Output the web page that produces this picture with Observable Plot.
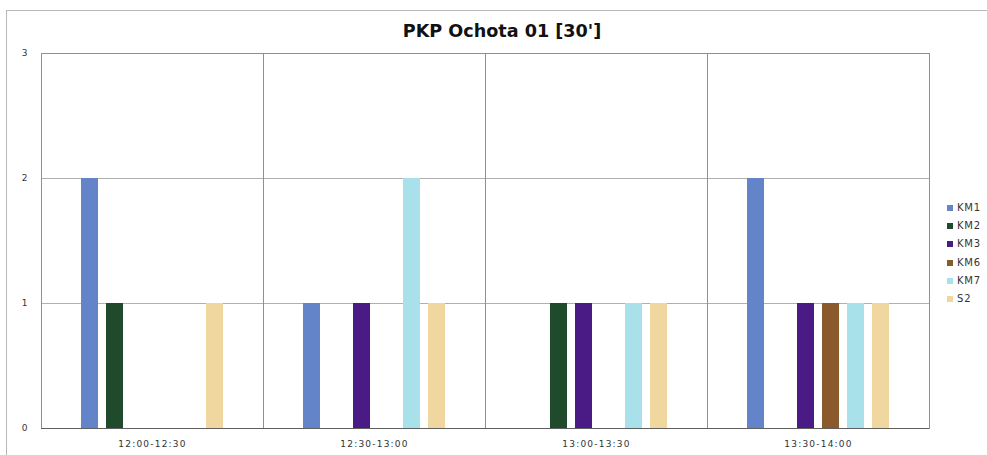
<!DOCTYPE html>
<html>
<head>
<meta charset="utf-8">
<script src="https://cdn.jsdelivr.net/npm/d3@7"></script>
<script src="https://cdn.jsdelivr.net/npm/@observablehq/plot@0.6"></script>
<style>
  body { margin: 0; background: #fff; width: 987px; height: 455px; overflow: hidden; position: relative; font-family: "DejaVu Sans", sans-serif; }
  #frame { position: absolute; left: 6px; top: 10px; width: 990px; height: 460px; border: 1px solid #b8b8b8; box-sizing: border-box; }
  #title { position: absolute; left: 0; top: 21px; width: 1004px; text-align: center; font-family: "DejaVu Sans", sans-serif; font-weight: bold; font-size: 17.6px; color: #111; }
  #chart { position: absolute; left: 0; top: 43px; }
  #legend { position: absolute; left: 947px; top: 199px; font-size: 10px; letter-spacing: 0.8px; color: #333; }
  #legend div { height: 18.2px; line-height: 18.2px; display: flex; align-items: center; }
  #legend span.sw { display: inline-block; width: 6px; height: 6px; margin-right: 4px; }
  #chart svg g[aria-label="fx-axis tick label"] text { letter-spacing: 1.2px; }
</style>
</head>
<body>
<div id="frame"></div>
<div id="title">PKP Ochota 01 [30']</div>
<div id="chart"></div>
<div id="legend"></div>
<script>
const groups = ["12:00-12:30", "12:30-13:00", "13:00-13:30", "13:30-14:00"];
const series = ["KM1", "KM2", "KM3", "KM6", "KM7", "S2"];
const KM1 = [2, 1, 0, 2];
const KM2 = [1, 0, 1, 0];
const KM3 = [0, 1, 1, 1];
const KM6 = [0, 0, 0, 1];
const KM7 = [0, 2, 1, 1];
const S2  = [1, 1, 1, 1];
const yTicks = [0, 1, 2, 3];
const colors = ["#6384c8", "#1f4a2c", "#4a1a85", "#8a5a2c", "#a9e1eb", "#efd79f"];

const values = {KM1, KM2, KM3, KM6, KM7, S2};
const data = [];
groups.forEach((g, i) => series.forEach(s => data.push({group: g, series: s, value: values[s][i]})));

const chart = Plot.plot({
  width: 940,
  height: 412,
  marginLeft: 40,
  marginRight: 10,
  marginTop: 10,
  marginBottom: 27,
  style: {fontFamily: "DejaVu Sans, sans-serif", fontSize: "9px", color: "#333", background: "transparent"},
  fx: {domain: groups, padding: 0, label: null, axis: "bottom", tickSize: 0, tickPadding: 12},
  x: {domain: series, paddingInner: 0.33, paddingOuter: 1.5, axis: null},
  y: {domain: [0, 3], ticks: yTicks, tickSize: 0, tickPadding: 14, label: null, tickFormat: d3.format("d")},
  color: {domain: series, range: colors},
  marks: [
    Plot.gridY(yTicks, {stroke: "#b0b0b0", strokeOpacity: 1}),
    Plot.frame({stroke: "#909090"}),
    Plot.barY(data.filter(d => d.value > 0), {fx: "group", x: "series", y: "value", fill: "series"}),
    Plot.ruleY([0], {stroke: "#606060", strokeWidth: 1.2}),
    Plot.ruleX([0], {stroke: "#444", strokeWidth: 1.5, facetAnchor: "left"})
  ]
});
document.getElementById("chart").appendChild(chart);

const legend = document.getElementById("legend");
series.forEach((s, i) => {
  const row = document.createElement("div");
  row.innerHTML = `<span class="sw" style="background:${colors[i]}"></span>${s}`;
  legend.appendChild(row);
});
</script>
</body>
</html>
